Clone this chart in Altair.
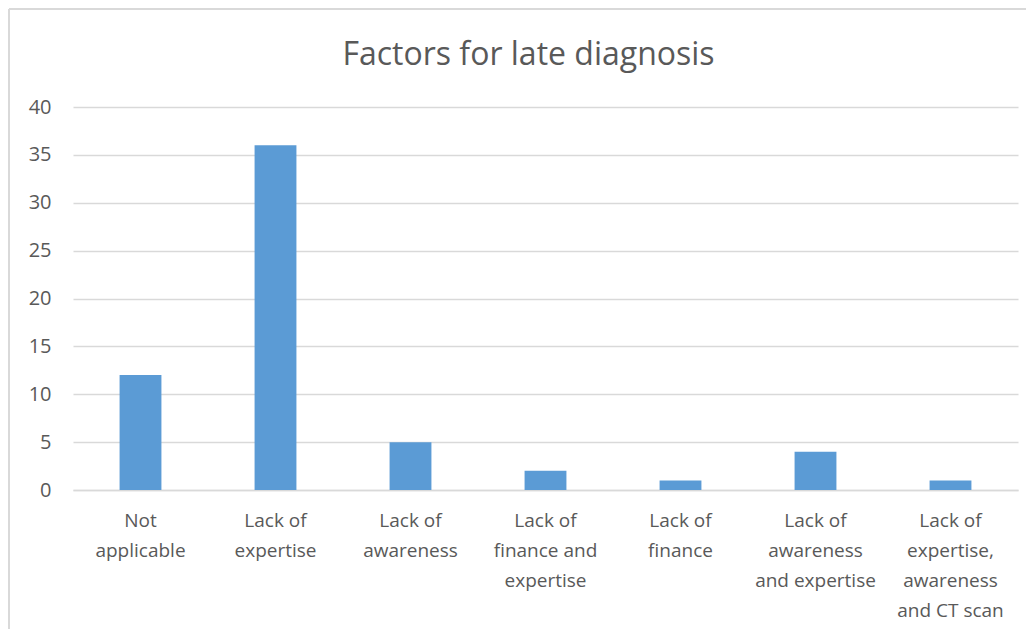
import altair as alt
import pandas as pd

categories = [
    "Not|applicable",
    "Lack of|expertise",
    "Lack of|awareness",
    "Lack of|finance and|expertise",
    "Lack of|finance",
    "Lack of|awareness|and expertise",
    "Lack of|expertise,|awareness|and CT scan",
]
values = [12, 36, 5, 2, 1, 4, 1]

df = pd.DataFrame({"category": categories, "value": values})

FONT = "Open Sans"
TXT = "#595959"
GRID = "#D9D9D9"

bars = alt.Chart(df).mark_bar(color="#5B9BD5").encode(
    x=alt.X(
        "category:N",
        sort=None,
        title=None,
        scale=alt.Scale(paddingInner=0.69, paddingOuter=0.345),
        axis=alt.Axis(
            labelExpr="split(datum.label, '|')",
            labelAngle=0,
            labelFontSize=19,
            labelColor=TXT,
            labelFont=FONT,
            labelLineHeight=30,
            labelPadding=21,
            labelBaseline="top",
            ticks=False,
            domainColor=GRID,
            domainWidth=1.5,
            grid=False,
        ),
    ),
    y=alt.Y(
        "value:Q",
        title=None,
        scale=alt.Scale(domain=[0, 40]),
        axis=alt.Axis(
            values=[0, 5, 10, 15, 20, 25, 30, 35, 40],
            labelFontSize=20,
            labelColor=TXT,
            labelFont=FONT,
            labelPadding=22,
            ticks=False,
            domain=False,
            gridColor=GRID,
            gridWidth=1.5,
        ),
    ),
)

left_border = alt.Chart(df).mark_rule(color=GRID, strokeWidth=1.5).encode(
    x=alt.value(-64), y=alt.value(-98), y2=alt.value(530)
)
top_border = alt.Chart(df).mark_rule(color=GRID, strokeWidth=1.5).encode(
    x=alt.value(-64), x2=alt.value(960), y=alt.value(-98)
)

chart = alt.layer(bars, left_border, top_border).properties(
    width=945,
    height=383,
    padding={"left": 65, "top": 99, "right": 8, "bottom": 139},
    autosize=alt.AutoSizeParams(type="none"),
    title=alt.TitleParams(
        "Factors for late diagnosis",
        fontSize=32,
        font=FONT,
        color=TXT,
        fontWeight="normal",
        anchor="middle",
        dx=-17,
        offset=-64,
    ),
).configure_view(stroke=None)

chart.save("out.html", embed_options={"renderer": "svg", "actions": False})
